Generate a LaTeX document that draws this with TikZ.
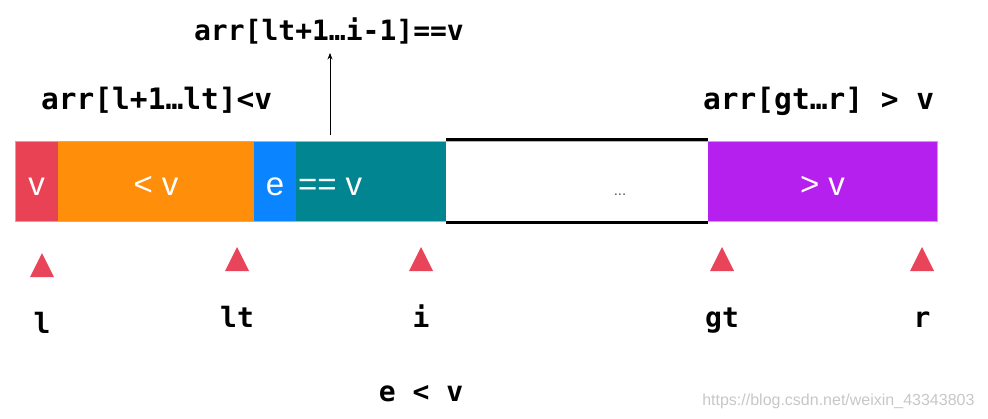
\documentclass[tikz,border=0pt]{standalone}
\usepackage{fontspec}
\setmainfont{Liberation Sans}
\newfontfamily\codefont{DejaVu Sans Mono}
\usetikzlibrary{arrows.meta,positioning}

\definecolor{segred}{RGB}{232,66,84}
\definecolor{segorange}{RGB}{255,142,10}
\definecolor{segblue}{RGB}{10,132,255}
\definecolor{segteal}{RGB}{0,133,145}
\definecolor{segpurple}{RGB}{182,32,238}
\definecolor{ptrred}{RGB}{232,69,90}

\tikzset{
    seg/.style={minimum height=80, inner sep=0, outer sep=0, anchor=north west,
        text=white, font=\fontsize{33}{36}\selectfont, text height=28pt, text depth=0pt},
    code/.style={font=\codefont\bfseries\fontsize{28}{30}\selectfont, inner sep=0},
    bigcode/.style={code, font=\codefont\bfseries\fontsize{29.5}{31}\selectfont},
    ptr/.style={fill=ptrred}
}

\begin{document}
\begin{tikzpicture}[x=1pt, y=-1pt, >=Stealth]
    \useasboundingbox (0,0) rectangle (988,418);

    % The array bar
    \node [seg, fill=segred, minimum width=43] (sv) at (15,141) {v};
    \node [seg, fill=segorange, minimum width=196] (slt) at (sv.north east) {<\ v};
    \node [seg, fill=segblue, minimum width=42] (se) at (slt.north east) {e};
    \node [seg, fill=segteal, minimum width=150] (seq) at (se.north east) {};
    \node [seg, fill=white, minimum width=262] (srest) at (seq.north east) {};
    \node [seg, fill=segpurple, minimum width=229] (sgt) at (srest.north east) {>\ v};
    \node [seg, anchor=west, inner sep=2] (eqtxt) at (seq.west) {==\ v};
    \node [font=\fontsize{15}{17}\selectfont, text=black!65] (dots) at (620,195) {...};
    \draw [black!30, line width=0.6] (sv.north west) rectangle (sgt.south east);
    \draw [line width=2.5] ([yshift=1.3]srest.north west) -- ([yshift=1.3]srest.north east);
    \draw [line width=2.5] ([yshift=-1.3]srest.south west) -- ([yshift=-1.3]srest.south east);

    % Range labels
    \node [code, anchor=base] (eqrange) at (329,40) {arr[lt+1…i-1]==v};
    \node [bigcode, anchor=base west] (ltrange) at (41,109) {arr[l+1…lt]<v};
    \node [bigcode, anchor=base west] (gtrange) at (703,109) {arr[gt…r] > v};
    \coordinate (eqfoot) at (330,135);
    \draw [->, line width=0.8, shorten >=9] (eqfoot) -- (eqfoot |- eqrange.south);

    % Index pointers
    \foreach \x/\y/\t/\n in {42/253/l/pl, 237/247/lt/plt, 421/247/i/pi, 722/247/gt/pgt, 922/247/r/pr} {
        \fill [ptr] (\x-12,\y+24) -- (\x,\y) -- (\x+12,\y+24) -- cycle;
        \node [code, anchor=base] (\n) at (\x,\y+80) {\t};
    }

    \node [code, anchor=base] (cond) at (421,401) {e < v};
    \node [font=\fontsize{16}{18}\selectfont, text=black!22, anchor=base east] (mark) at (978,405) {https://blog.csdn.net/weixin\_43343803};
\end{tikzpicture}
\end{document}
